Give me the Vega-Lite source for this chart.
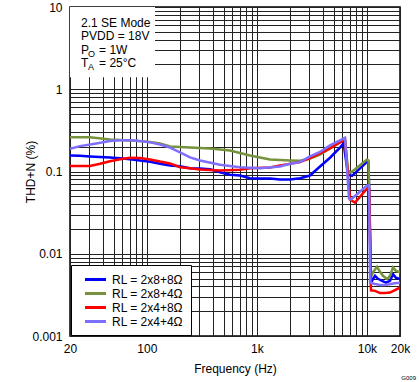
{
  "$schema": "https://vega.github.io/schema/vega-lite/v6.json",
  "autosize": {"type": "none"},
  "padding": {"left": 70, "top": 7, "right": 19, "bottom": 46},
  "width": 330,
  "height": 329,
  "background": "white",
  "config": {
    "font": "Liberation Sans",
    "view": {"stroke": "#000", "strokeWidth": 1.5},
    "axis": {"domain": false, "ticks": false, "tickSize": 0, "grid": true, "gridColor": "#222", "gridWidth": 1, "gridOpacity": 1, "labelFont": "Liberation Sans", "labelFontSize": 12, "labelColor": "#000", "titleFont": "Liberation Sans", "titleFontSize": 12, "titleFontWeight": "normal", "titleColor": "#000", "labelOverlap": false, "labelFlush": false}
  },
  "title": {"text": "G009", "orient": "bottom", "anchor": "end", "frame": "group", "fontSize": 6, "fontWeight": "normal", "font": "Liberation Sans", "color": "#000", "dx": 16, "offset": 1},
  "datasets": {
    "curves": [
      {"s": "RL = 2x8+8Ω", "f": 20, "v": 0.1567},
      {"s": "RL = 2x8+8Ω", "f": 24.6, "v": 0.155},
      {"s": "RL = 2x8+8Ω", "f": 30.4, "v": 0.1524},
      {"s": "RL = 2x8+8Ω", "f": 46.2, "v": 0.1482},
      {"s": "RL = 2x8+8Ω", "f": 57, "v": 0.145},
      {"s": "RL = 2x8+8Ω", "f": 70.2, "v": 0.141},
      {"s": "RL = 2x8+8Ω", "f": 86.6, "v": 0.1362},
      {"s": "RL = 2x8+8Ω", "f": 106.8, "v": 0.1315},
      {"s": "RL = 2x8+8Ω", "f": 131.6, "v": 0.1243},
      {"s": "RL = 2x8+8Ω", "f": 162.3, "v": 0.1184},
      {"s": "RL = 2x8+8Ω", "f": 200, "v": 0.116},
      {"s": "RL = 2x8+8Ω", "f": 246.6, "v": 0.1098},
      {"s": "RL = 2x8+8Ω", "f": 304, "v": 0.1088},
      {"s": "RL = 2x8+8Ω", "f": 374.8, "v": 0.1068},
      {"s": "RL = 2x8+8Ω", "f": 462, "v": 0.098},
      {"s": "RL = 2x8+8Ω", "f": 570, "v": 0.0911},
      {"s": "RL = 2x8+8Ω", "f": 702, "v": 0.0894},
      {"s": "RL = 2x8+8Ω", "f": 866, "v": 0.083},
      {"s": "RL = 2x8+8Ω", "f": 1068, "v": 0.0822},
      {"s": "RL = 2x8+8Ω", "f": 1316, "v": 0.0822},
      {"s": "RL = 2x8+8Ω", "f": 1623, "v": 0.0799},
      {"s": "RL = 2x8+8Ω", "f": 2000, "v": 0.0799},
      {"s": "RL = 2x8+8Ω", "f": 2466, "v": 0.083},
      {"s": "RL = 2x8+8Ω", "f": 3040, "v": 0.0894},
      {"s": "RL = 2x8+8Ω", "f": 3748, "v": 0.115},
      {"s": "RL = 2x8+8Ω", "f": 4621, "v": 0.147},
      {"s": "RL = 2x8+8Ω", "f": 5698, "v": 0.1952},
      {"s": "RL = 2x8+8Ω", "f": 6140, "v": 0.2196},
      {"s": "RL = 2x8+8Ω", "f": 6735, "v": 0.0919},
      {"s": "RL = 2x8+8Ω", "f": 7324, "v": 0.0884},
      {"s": "RL = 2x8+8Ω", "f": 10024, "v": 0.131},
      {"s": "RL = 2x8+8Ω", "f": 10342, "v": 0.1288},
      {"s": "RL = 2x8+8Ω", "f": 10900, "v": 0.00449},
      {"s": "RL = 2x8+8Ω", "f": 11852, "v": 0.00539},
      {"s": "RL = 2x8+8Ω", "f": 12619, "v": 0.00496},
      {"s": "RL = 2x8+8Ω", "f": 13720, "v": 0.00469},
      {"s": "RL = 2x8+8Ω", "f": 14922, "v": 0.00446},
      {"s": "RL = 2x8+8Ω", "f": 16230, "v": 0.00469},
      {"s": "RL = 2x8+8Ω", "f": 17280, "v": 0.00565},
      {"s": "RL = 2x8+8Ω", "f": 18390, "v": 0.0051},
      {"s": "RL = 2x8+8Ω", "f": 20000, "v": 0.00493},

      {"s": "RL = 2x8+4Ω", "f": 20, "v": 0.26},
      {"s": "RL = 2x8+4Ω", "f": 30.4, "v": 0.26},
      {"s": "RL = 2x8+4Ω", "f": 46.2, "v": 0.2455},
      {"s": "RL = 2x8+4Ω", "f": 70.2, "v": 0.239},
      {"s": "RL = 2x8+4Ω", "f": 106.8, "v": 0.229},
      {"s": "RL = 2x8+4Ω", "f": 131.6, "v": 0.2196},
      {"s": "RL = 2x8+4Ω", "f": 162.3, "v": 0.2018},
      {"s": "RL = 2x8+4Ω", "f": 246.6, "v": 0.1962},
      {"s": "RL = 2x8+4Ω", "f": 374.8, "v": 0.1907},
      {"s": "RL = 2x8+4Ω", "f": 569.8, "v": 0.1804},
      {"s": "RL = 2x8+4Ω", "f": 866, "v": 0.1567},
      {"s": "RL = 2x8+4Ω", "f": 1316, "v": 0.1401},
      {"s": "RL = 2x8+4Ω", "f": 2000, "v": 0.1362},
      {"s": "RL = 2x8+4Ω", "f": 2466, "v": 0.135},
      {"s": "RL = 2x8+4Ω", "f": 3040, "v": 0.1441},
      {"s": "RL = 2x8+4Ω", "f": 3748, "v": 0.16},
      {"s": "RL = 2x8+4Ω", "f": 4621, "v": 0.1907},
      {"s": "RL = 2x8+4Ω", "f": 5698, "v": 0.232},
      {"s": "RL = 2x8+4Ω", "f": 6325, "v": 0.2455},
      {"s": "RL = 2x8+4Ω", "f": 6735, "v": 0.1029},
      {"s": "RL = 2x8+4Ω", "f": 7170, "v": 0.0973},
      {"s": "RL = 2x8+4Ω", "f": 10024, "v": 0.1401},
      {"s": "RL = 2x8+4Ω", "f": 10342, "v": 0.1362},
      {"s": "RL = 2x8+4Ω", "f": 10900, "v": 0.00524},
      {"s": "RL = 2x8+4Ω", "f": 11367, "v": 0.00595},
      {"s": "RL = 2x8+4Ω", "f": 12360, "v": 0.00694},
      {"s": "RL = 2x8+4Ω", "f": 13160, "v": 0.00603},
      {"s": "RL = 2x8+4Ω", "f": 14014, "v": 0.00539},
      {"s": "RL = 2x8+4Ω", "f": 15238, "v": 0.00493},
      {"s": "RL = 2x8+4Ω", "f": 16230, "v": 0.00539},
      {"s": "RL = 2x8+4Ω", "f": 17280, "v": 0.00681},
      {"s": "RL = 2x8+4Ω", "f": 18390, "v": 0.00619},
      {"s": "RL = 2x8+4Ω", "f": 20000, "v": 0.00595},

      {"s": "RL = 2x4+8Ω", "f": 20, "v": 0.1165},
      {"s": "RL = 2x4+8Ω", "f": 30.4, "v": 0.1165},
      {"s": "RL = 2x4+8Ω", "f": 37.5, "v": 0.124},
      {"s": "RL = 2x4+8Ω", "f": 46.2, "v": 0.1331},
      {"s": "RL = 2x4+8Ω", "f": 57, "v": 0.141},
      {"s": "RL = 2x4+8Ω", "f": 70.2, "v": 0.147},
      {"s": "RL = 2x4+8Ω", "f": 86.6, "v": 0.146},
      {"s": "RL = 2x4+8Ω", "f": 106.8, "v": 0.14},
      {"s": "RL = 2x4+8Ω", "f": 131.6, "v": 0.132},
      {"s": "RL = 2x4+8Ω", "f": 162.3, "v": 0.1253},
      {"s": "RL = 2x4+8Ω", "f": 200, "v": 0.1127},
      {"s": "RL = 2x4+8Ω", "f": 246.6, "v": 0.1098},
      {"s": "RL = 2x4+8Ω", "f": 304, "v": 0.106},
      {"s": "RL = 2x4+8Ω", "f": 462, "v": 0.1029},
      {"s": "RL = 2x4+8Ω", "f": 702, "v": 0.1049},
      {"s": "RL = 2x4+8Ω", "f": 866, "v": 0.1098},
      {"s": "RL = 2x4+8Ω", "f": 1316, "v": 0.1119},
      {"s": "RL = 2x4+8Ω", "f": 1623, "v": 0.1184},
      {"s": "RL = 2x4+8Ω", "f": 2466, "v": 0.1299},
      {"s": "RL = 2x4+8Ω", "f": 3040, "v": 0.146},
      {"s": "RL = 2x4+8Ω", "f": 3748, "v": 0.1659},
      {"s": "RL = 2x4+8Ω", "f": 4621, "v": 0.1907},
      {"s": "RL = 2x4+8Ω", "f": 5698, "v": 0.2257},
      {"s": "RL = 2x4+8Ω", "f": 6325, "v": 0.242},
      {"s": "RL = 2x4+8Ω", "f": 7024, "v": 0.0456},
      {"s": "RL = 2x4+8Ω", "f": 7797, "v": 0.0419},
      {"s": "RL = 2x4+8Ω", "f": 10236, "v": 0.0638},
      {"s": "RL = 2x4+8Ω", "f": 10500, "v": 0.062},
      {"s": "RL = 2x4+8Ω", "f": 10900, "v": 0.00359},
      {"s": "RL = 2x4+8Ω", "f": 11852, "v": 0.00354},
      {"s": "RL = 2x4+8Ω", "f": 13160, "v": 0.00333},
      {"s": "RL = 2x4+8Ω", "f": 14606, "v": 0.00333},
      {"s": "RL = 2x4+8Ω", "f": 16230, "v": 0.00337},
      {"s": "RL = 2x4+8Ω", "f": 18010, "v": 0.00362},
      {"s": "RL = 2x4+8Ω", "f": 20000, "v": 0.00389},

      {"s": "RL = 2x4+4Ω", "f": 20, "v": 0.189},
      {"s": "RL = 2x4+4Ω", "f": 24.6, "v": 0.2036},
      {"s": "RL = 2x4+4Ω", "f": 33.7, "v": 0.218},
      {"s": "RL = 2x4+4Ω", "f": 46.2, "v": 0.2355},
      {"s": "RL = 2x4+4Ω", "f": 57, "v": 0.24},
      {"s": "RL = 2x4+4Ω", "f": 70.2, "v": 0.24},
      {"s": "RL = 2x4+4Ω", "f": 86.6, "v": 0.2345},
      {"s": "RL = 2x4+4Ω", "f": 106.8, "v": 0.226},
      {"s": "RL = 2x4+4Ω", "f": 131.6, "v": 0.213},
      {"s": "RL = 2x4+4Ω", "f": 162.3, "v": 0.195},
      {"s": "RL = 2x4+4Ω", "f": 200, "v": 0.1706},
      {"s": "RL = 2x4+4Ω", "f": 246.6, "v": 0.1482},
      {"s": "RL = 2x4+4Ω", "f": 304, "v": 0.1362},
      {"s": "RL = 2x4+4Ω", "f": 462, "v": 0.121},
      {"s": "RL = 2x4+4Ω", "f": 702, "v": 0.1127},
      {"s": "RL = 2x4+4Ω", "f": 1068, "v": 0.1098},
      {"s": "RL = 2x4+4Ω", "f": 1623, "v": 0.1151},
      {"s": "RL = 2x4+4Ω", "f": 2000, "v": 0.1245},
      {"s": "RL = 2x4+4Ω", "f": 2466, "v": 0.1299},
      {"s": "RL = 2x4+4Ω", "f": 3040, "v": 0.1524},
      {"s": "RL = 2x4+4Ω", "f": 3748, "v": 0.1728},
      {"s": "RL = 2x4+4Ω", "f": 4621, "v": 0.2075},
      {"s": "RL = 2x4+4Ω", "f": 5698, "v": 0.239},
      {"s": "RL = 2x4+4Ω", "f": 6325, "v": 0.2566},
      {"s": "RL = 2x4+4Ω", "f": 6877, "v": 0.0469},
      {"s": "RL = 2x4+4Ω", "f": 7170, "v": 0.0456},
      {"s": "RL = 2x4+4Ω", "f": 10024, "v": 0.0675},
      {"s": "RL = 2x4+4Ω", "f": 10450, "v": 0.0675},
      {"s": "RL = 2x4+4Ω", "f": 10700, "v": 0.00443},
      {"s": "RL = 2x4+4Ω", "f": 11852, "v": 0.00429},
      {"s": "RL = 2x4+4Ω", "f": 13160, "v": 0.00418},
      {"s": "RL = 2x4+4Ω", "f": 14606, "v": 0.00418},
      {"s": "RL = 2x4+4Ω", "f": 18010, "v": 0.00438},
      {"s": "RL = 2x4+4Ω", "f": 20000, "v": 0.00445}
    ],
    "box": [
      {"f1": 20, "f2": 118.6, "v1": 1.4, "v2": 10}
    ],
    "notes": [
      {"f": 25.2, "v": 6.38, "a": "2.1 SE Mode", "b": "", "c": ""},
      {"f": 25.2, "v": 4.43, "a": "PVDD = 18V", "b": "", "c": ""},
      {"f": 25.2, "v": 2.99, "a": "P", "b": "O", "c": "= 1W"},
      {"f": 25.2, "v": 2.075, "a": "T", "b": "A", "c": "= 25°C"}
    ]
  },
  "layer": [
    {
      "data": {"name": "box"},
      "mark": {"type": "rect", "fill": "white"},
      "encoding": {
        "x": {"field": "f1", "type": "quantitative", "scale": {"type": "log", "domain": [20, 20000], "nice": false},
          "axis": {"title": "Frequency (Hz)", "values": [20,30,40,50,60,70,80,90,100,200,300,400,500,600,700,800,900,1000,2000,3000,4000,5000,6000,7000,8000,9000,10000,20000],
            "labelExpr": "datum.value==20?'20':datum.value==100?'100':datum.value==1000?'1k':datum.value==10000?'10k':datum.value==20000?'20k':''",
            "labelPadding": 7, "titlePadding": 9}},
        "x2": {"field": "f2"},
        "y": {"field": "v1", "type": "quantitative", "scale": {"type": "log", "domain": [0.001, 10], "nice": false},
          "axis": {"title": "THD+N (%)", "values": [0.001,0.002,0.003,0.004,0.005,0.006,0.007,0.008,0.009,0.01,0.02,0.03,0.04,0.05,0.06,0.07,0.08,0.09,0.1,0.2,0.3,0.4,0.5,0.6,0.7,0.8,0.9,1,2,3,4,5,6,7,8,9,10],
            "labelExpr": "datum.value==0.001?'0.001':datum.value==0.01?'0.01':datum.value==0.1?'0.1':datum.value==1?'1':datum.value==10?'10':''",
            "labelPadding": 8, "titlePadding": -6}},
        "y2": {"field": "v2"}
      }
    },
    {
      "data": {"name": "curves"},
      "mark": {"type": "line", "strokeWidth": 2.5, "clip": true},
      "encoding": {
        "x": {"field": "f", "type": "quantitative"},
        "y": {"field": "v", "type": "quantitative"},
        "color": {"field": "s", "type": "nominal",
          "scale": {"domain": ["RL = 2x8+8Ω", "RL = 2x8+4Ω", "RL = 2x4+8Ω", "RL = 2x4+4Ω"], "range": ["#0000FF", "#76923C", "#FF0000", "#7F6FFF"]},
          "legend": {"title": null, "orient": "bottom-left", "offset": 1, "fillColor": "white", "strokeColor": "#000", "padding": 7, "symbolType": "M-1.75,0H1.75", "symbolSize": 144, "symbolStrokeWidth": 3, "labelFontSize": 12, "labelFont": "Liberation Sans", "labelColor": "#000", "rowPadding": 0, "symbolOffset": 10, "labelOffset": 9}}
      }
    },
    {
      "data": {"name": "notes"},
      "mark": {"type": "text", "align": "left", "baseline": "middle", "fontSize": 12, "color": "#000"},
      "encoding": {
        "x": {"field": "f", "type": "quantitative"},
        "y": {"field": "v", "type": "quantitative"},
        "text": {"field": "a"}
      }
    },
    {
      "data": {"name": "notes"},
      "mark": {"type": "text", "align": "left", "baseline": "middle", "fontSize": 9, "dx": 7, "dy": 4, "color": "#000"},
      "encoding": {
        "x": {"field": "f", "type": "quantitative"},
        "y": {"field": "v", "type": "quantitative"},
        "text": {"field": "b"}
      }
    },
    {
      "data": {"name": "notes"},
      "mark": {"type": "text", "align": "left", "baseline": "middle", "fontSize": 12, "dx": 18, "color": "#000"},
      "encoding": {
        "x": {"field": "f", "type": "quantitative"},
        "y": {"field": "v", "type": "quantitative"},
        "text": {"field": "c"}
      }
    }
  ]
}
